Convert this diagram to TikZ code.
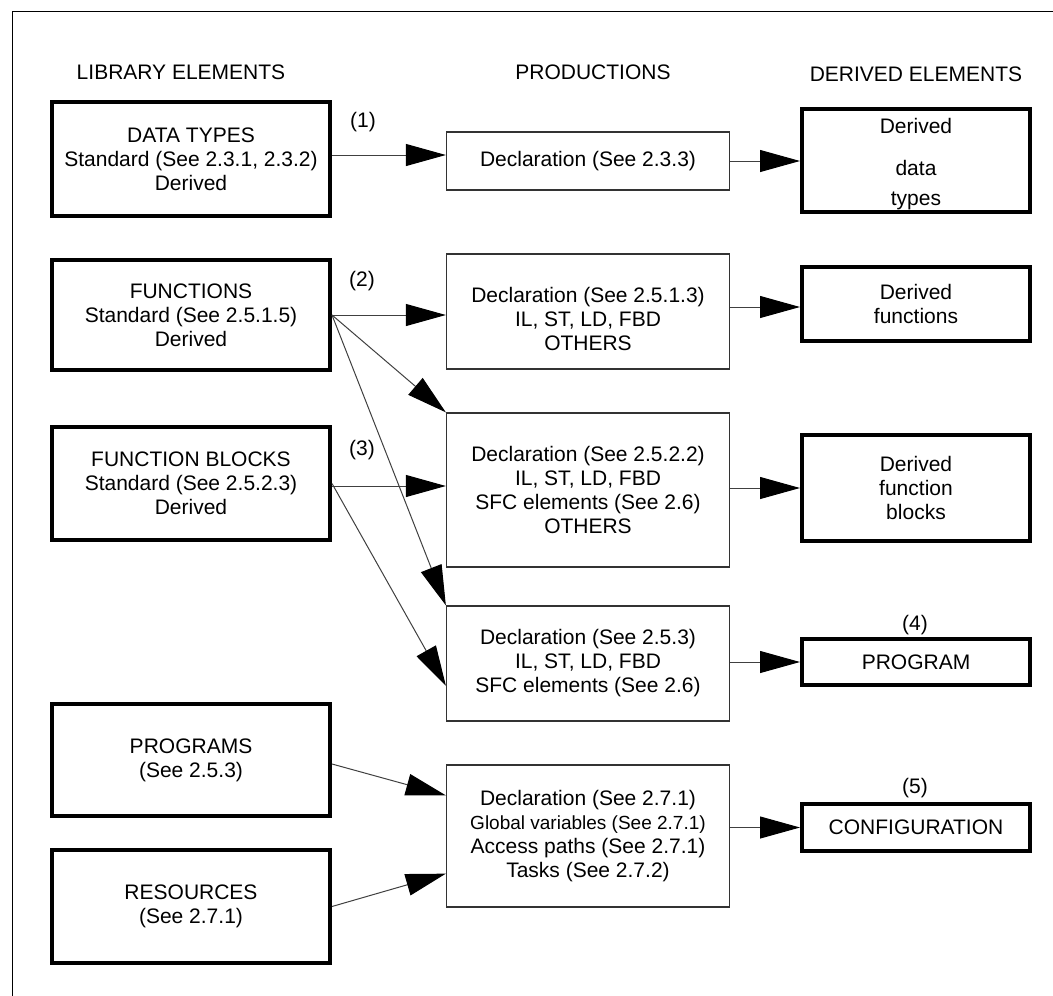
\documentclass[tikz,border=0pt]{standalone}
\usepackage{fontspec}
\setmainfont{Liberation Sans}
\usetikzlibrary{arrows.meta,calc}
\begin{document}
\begin{tikzpicture}[x=1pt,y=-1pt,
  every node/.style={font=\fontsize{21}{24}\selectfont, align=center, inner sep=0pt},
  libbox/.style={draw, line width=4pt, minimum width=278pt},
  prodbox/.style={draw=black!80, line width=1.3pt, minimum width=283pt},
  derbox/.style={draw, line width=4pt, minimum width=228pt},
  arr/.style={line width=1pt, draw=black!75, -{Triangle[length=40pt,width=22pt,color=black]}},
  frameline/.style={line width=1.3pt, draw=black}
]
\useasboundingbox (0,0) rectangle (1053,996);
% frame
\coordinate (fc) at (12.5,11.5);
\coordinate (fr) at (1053,11.5);
\coordinate (fb) at (12.5,996);
\draw[frameline] (fr) -- (fc) -- (fb);

% headings
\node (hlib) at (181,72) {LIBRARY ELEMENTS};
\node (hprod) at (593,72) {PRODUCTIONS};
\node (hder) at (916,74.5) {DERIVED ELEMENTS};

% library elements
\node[libbox, minimum height=114pt] (dt) at (191,159) {DATA TYPES\\Standard (See 2.3.1, 2.3.2)\\Derived};
\node[libbox, minimum height=110pt] (fn) at (191,315) {FUNCTIONS\\Standard (See 2.5.1.5)\\Derived};
\node[libbox, minimum height=113pt] (fbk) at (191,483.5) {FUNCTION BLOCKS\\Standard (See 2.5.2.3)\\Derived};
\node[libbox, minimum height=112pt] (prgs) at (191,760) {PROGRAMS\\(See 2.5.3)};
\node[libbox, minimum height=113pt] (res) at (191,906.5) {RESOURCES\\(See 2.7.1)};

% productions
\node[prodbox, minimum height=58pt] (d1) at (588,161) {Declaration (See 2.3.3)};
\node[prodbox, minimum height=115pt] (d2) at (588,311.5) {};
\node (d2t) at ([yshift=-7pt]d2.center) {Declaration (See 2.5.1.3)\\IL, ST, LD, FBD\\OTHERS};
\node[prodbox, minimum height=154pt] (d3) at (588,490) {Declaration (See 2.5.2.2)\\IL, ST, LD, FBD\\SFC elements (See 2.6)\\OTHERS};
\node[prodbox, minimum height=115pt] (d4) at (588,663.5) {Declaration (See 2.5.3)\\IL, ST, LD, FBD\\SFC elements (See 2.6)};
\node[prodbox, minimum height=142pt] (d5) at (588,836) {Declaration (See 2.7.1)\\{\fontsize{19}{24}\selectfont Global variables (See 2.7.1)}\\Access paths (See 2.7.1)\\Tasks (See 2.7.2)};

% derived elements
\node[derbox, minimum height=103pt] (ddt) at (916,160.5) {};
\node (ddtt) at ([yshift=-4pt]ddt.center) {Derived\\[18pt]data\\[6pt]types};
\node[derbox, minimum height=74pt] (df) at (916,304) {Derived\\functions};
\node[derbox, minimum height=106pt] (dfb) at (916,488) {Derived\\function\\blocks};
\node[derbox, minimum height=46pt] (prog) at (916,662) {PROGRAM};
\node[derbox, minimum height=47pt] (conf) at (916,827.5) {CONFIGURATION};

% numbered labels
\node (l1) at (363,122) {(1)};
\node (l2) at (362,281.5) {(2)};
\node (l3) at (362,450) {(3)};
\node (l4) at (915,625) {(4)};
\node (l5) at (915,788) {(5)};

% connectors
\draw[arr] ($(dt.east)+(0,-4)$) coordinate (a1) -- (a1 -| d1.west);
\draw[arr] (d1.east) -- (d1.east -| ddt.west);
\draw[arr] (fn.east) -- (fn.east -| d2.west);
\draw[arr] (fn.east) -- (d3.north west);
\draw[arr] (fn.east) -- (d4.north west);
\draw[arr] ($(df.west -| d2.east)+(0,3)$) coordinate (a5) -- (a5 -| df.west);
\draw[arr] ($(fbk.east)+(0,2.5)$) coordinate (a6) -- (a6 -| d3.west);
\draw[arr] (fbk.east) -- ($(d4.south west)+(0,-36)$);
\draw[arr] (dfb.west -| d3.east) -- (dfb.west);
\draw[arr] (prog.west -| d4.east) -- (prog.west);
\draw[arr] ($(prgs.east)+(0,4)$) -- ($(d5.north west)+(0,31)$);
\draw[arr] (res.east) -- ($(d5.south west)+(0,-34)$);
\draw[arr] (conf.west -| d5.east) -- (conf.west);
\end{tikzpicture}
\end{document}
